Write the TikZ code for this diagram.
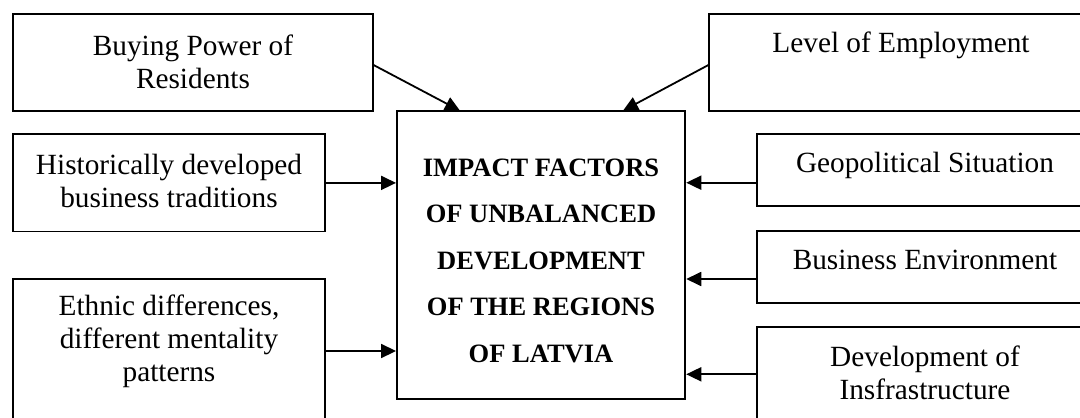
\documentclass[tikz,border=0pt]{standalone}
\usepackage{fontspec}
\setmainfont{Liberation Serif}
\usetikzlibrary{arrows.meta}
\begin{document}
\begin{tikzpicture}[x=1pt,y=-1pt,
  box/.style={draw, line width=1.9pt, rectangle, inner sep=0pt, fill=white},
  txt/.style={align=center, inner sep=0pt, font=\fontsize{29.3}{33}\selectfont},
  ctrtxt/.style={align=center, inner sep=0pt, font=\fontsize{26.5}{46.5}\selectfont\bfseries},
  arr/.style={line width=1.8pt, -{Triangle[length=15pt,width=14pt]}}]
\useasboundingbox (0,0) rectangle (1080,418);
\clip (0,0) rectangle (1080,418);
\fill[white] (0,0) rectangle (1080,418);
% boxes
\node[box, minimum width=360.3pt, minimum height=96.4pt] (buy) at (192.85,62.5) {};
\node[box, minimum width=384pt, minimum height=96.4pt] (lev) at (901,62.5) {};
\node[box, minimum width=312.3pt, minimum height=97.2pt] (his) at (168.85,182.9) {};
\node[box, minimum width=312.3pt, minimum height=144pt] (eth) at (168.85,351) {};
\node[box, minimum width=336pt, minimum height=71.4pt] (geo) at (925,170) {};
\node[box, minimum width=336pt, minimum height=71.7pt] (bus) at (925,266.85) {};
\node[box, minimum width=336pt, minimum height=95.3pt] (inf) at (925,374.3) {};
\node[box, minimum width=288.3pt, minimum height=288pt] (ctr) at (541.15,254.7) {};
% texts
\node[txt] (tbuy) at (193,61.5) {Buying Power of\\Residents};
\node[txt] (tlev) at (901,45) {Level of Employment};
\node[txt] (this) at (169,180.5) {Historically developed\\business traditions};
\node[txt] (teth) at (169,341) {Ethnic differences,\\different mentality\\patterns};
\node[txt] (tgeo) at (925,165) {Geopolitical Situation};
\node[txt] (tbus) at (925,260) {Business Environment};
\node[txt] (tinf) at (925,373) {Development of\\Insfrastructure};
\node[ctrtxt] (tctr) at (541,260.5) {IMPACT FACTORS\\OF UNBALANCED\\DEVELOPMENT\\OF THE REGIONS\\OF LATVIA};
% connector end points
\coordinate (buyS) at (373,64.7);
\coordinate (buyE) at (460,110.7);
\coordinate (levS) at (709,64.7);
\coordinate (levE) at (623,110.7);
\coordinate (geoS) at (757,182.7);
\coordinate (busS) at (757,279);
% connectors
\draw[arr] (buyS) -- (buyE);
\draw[arr] (levS) -- (levE);
\draw[arr] (his.east) -- (his.east -| ctr.west);
\draw[arr] (eth.east) -- (eth.east -| ctr.west);
\draw[arr] (geoS) -- (geoS -| ctr.east);
\draw[arr] (busS) -- (busS -| ctr.east);
\draw[arr] (inf.west) -- (inf.west -| ctr.east);
\end{tikzpicture}
\end{document}
